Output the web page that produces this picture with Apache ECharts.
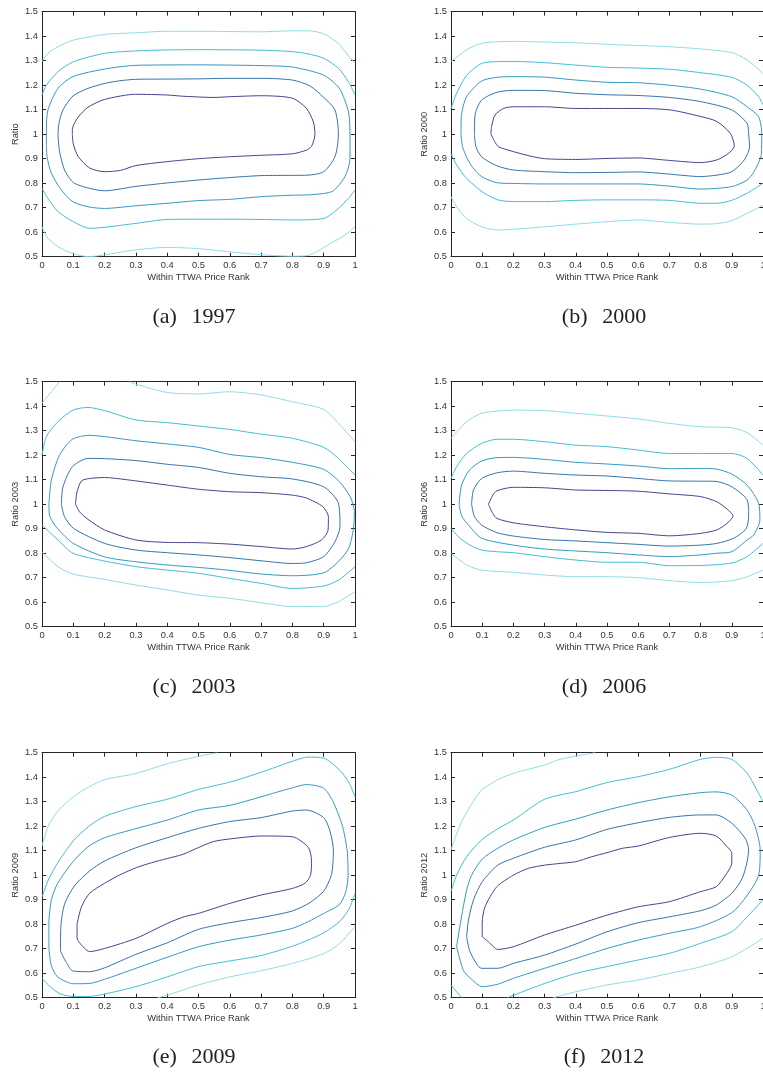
<!DOCTYPE html>
<html>
<head>
<meta charset="utf-8">
<script src="https://cdn.jsdelivr.net/npm/echarts@6/dist/echarts.min.js"></script>
<style>
html,body{margin:0;padding:0;background:#fff;overflow:hidden;}
#chart{width:763px;height:1074px;}
</style>
</head>
<body>
<div id="chart"></div>
<script>
// ---- tick labels / axis ranges ----
const xTicks = [0, 0.1, 0.2, 0.3, 0.4, 0.5, 0.6, 0.7, 0.8, 0.9, 1];
const yTicks = [0.5, 0.6, 0.7, 0.8, 0.9, 1, 1.1, 1.2, 1.3, 1.4, 1.5];
const captions = ['(a)', '(b)', '(c)', '(d)', '(e)', '(f)'];
const years = ['1997', '2000', '2003', '2006', '2009', '2012'];
const yNames = ['Ratio', 'Ratio 2000', 'Ratio 2003', 'Ratio 2006', 'Ratio 2009', 'Ratio 2012'];
const xName = 'Within TTWA Price Rank';

// ---- contour lines: [rank, ratio] ----
// (a) 1997
const a_L1 = [[0.097,1.0],[0.1,0.96],[0.115,0.91],[0.152,0.862],[0.2,0.847],[0.25,0.852],[0.3,0.872],[0.4,0.888],[0.5,0.9],[0.6,0.908],[0.7,0.914],[0.8,0.92],[0.845,0.935],[0.861,0.95],[0.872,1.0],[0.867,1.05],[0.845,1.105],[0.8,1.147],[0.7,1.157],[0.6,1.153],[0.55,1.15],[0.45,1.155],[0.4,1.16],[0.3,1.163],[0.2,1.142],[0.147,1.11],[0.115,1.069],[0.097,1.02],[0.097,1.0]];
const a_L2 = [[0.051,1.0],[0.056,0.93],[0.072,0.854],[0.101,0.802],[0.152,0.779],[0.2,0.769],[0.3,0.787],[0.4,0.801],[0.5,0.813],[0.6,0.823],[0.7,0.831],[0.8,0.832],[0.85,0.833],[0.9,0.847],[0.936,0.908],[0.947,1.0],[0.936,1.099],[0.9,1.15],[0.856,1.197],[0.8,1.221],[0.7,1.228],[0.6,1.228],[0.5,1.226],[0.4,1.225],[0.3,1.224],[0.248,1.218],[0.2,1.207],[0.147,1.187],[0.099,1.156],[0.067,1.099],[0.054,1.044],[0.051,1.0]];
const a_L3 = [[0.014,0.95],[0.014,1.02],[0.019,1.099],[0.051,1.187],[0.099,1.235],[0.2,1.266],[0.3,1.281],[0.5,1.283],[0.7,1.28],[0.8,1.274],[0.9,1.241],[0.95,1.187],[0.979,1.092],[0.984,1.0],[0.984,0.9],[0.968,0.827],[0.931,0.769],[0.899,0.758],[0.845,0.752],[0.8,0.751],[0.7,0.745],[0.6,0.734],[0.5,0.729],[0.4,0.718],[0.3,0.708],[0.2,0.697],[0.15,0.703],[0.099,0.724],[0.062,0.772],[0.03,0.84],[0.016,0.908],[0.014,0.95]];
const a_L4top = [[0,1.16],[0.014,1.2],[0.051,1.255],[0.101,1.296],[0.2,1.33],[0.3,1.34],[0.4,1.344],[0.5,1.345],[0.7,1.343],[0.8,1.337],[0.85,1.328],[0.9,1.31],[0.947,1.269],[0.979,1.214],[1.0,1.16]];
const a_L4bot = [[0,0.779],[0.019,0.738],[0.051,0.684],[0.1,0.643],[0.152,0.616],[0.2,0.62],[0.3,0.636],[0.4,0.652],[0.5,0.653],[0.6,0.653],[0.7,0.652],[0.8,0.65],[0.9,0.656],[0.947,0.697],[0.979,0.738],[1.0,0.772]];
const a_L5top = [[0,1.296],[0.019,1.33],[0.051,1.357],[0.1,1.384],[0.2,1.407],[0.3,1.414],[0.4,1.42],[0.5,1.42],[0.6,1.419],[0.7,1.418],[0.8,1.422],[0.85,1.422],[0.9,1.41],[0.947,1.37],[0.979,1.32],[1.0,1.29]];
const a_L5bot = [[0,0.622],[0.019,0.575],[0.051,0.541],[0.1,0.512],[0.15,0.5],[0.2,0.508],[0.3,0.528],[0.4,0.538],[0.5,0.533],[0.6,0.52],[0.7,0.508],[0.8,0.502],[0.85,0.505],[0.89,0.53],[0.93,0.56],[0.97,0.59],[1.0,0.622]];

// (b) 2000
const b_L1 = [[0.128,1.0],[0.13,1.03],[0.141,1.078],[0.168,1.105],[0.2,1.112],[0.3,1.112],[0.4,1.105],[0.5,1.105],[0.6,1.105],[0.703,1.099],[0.804,1.071],[0.852,1.052],[0.895,1.004],[0.908,0.952],[0.89,0.922],[0.852,0.895],[0.8,0.884],[0.7,0.893],[0.6,0.903],[0.5,0.901],[0.4,0.897],[0.3,0.9],[0.253,0.911],[0.2,0.929],[0.152,0.949],[0.14,0.97],[0.128,1.0]];
const b_L2 = [[0.075,1.0],[0.077,1.078],[0.098,1.139],[0.147,1.171],[0.2,1.179],[0.3,1.178],[0.4,1.167],[0.5,1.161],[0.6,1.158],[0.7,1.15],[0.8,1.133],[0.9,1.099],[0.949,1.044],[0.954,1.0],[0.957,0.949],[0.94,0.895],[0.9,0.847],[0.852,0.833],[0.8,0.827],[0.7,0.837],[0.6,0.846],[0.5,0.844],[0.4,0.843],[0.3,0.847],[0.2,0.854],[0.147,0.871],[0.098,0.908],[0.08,0.949],[0.075,1.0]];
const b_L3 = [[0.032,1.0],[0.033,1.071],[0.05,1.153],[0.098,1.217],[0.147,1.232],[0.2,1.235],[0.3,1.233],[0.4,1.221],[0.5,1.212],[0.6,1.21],[0.7,1.2],[0.8,1.184],[0.9,1.153],[0.949,1.112],[0.986,1.071],[0.996,1.0],[0.995,0.92],[0.97,0.844],[0.949,0.813],[0.9,0.786],[0.8,0.776],[0.7,0.788],[0.6,0.797],[0.5,0.797],[0.4,0.797],[0.3,0.797],[0.2,0.799],[0.147,0.802],[0.098,0.827],[0.07,0.863],[0.052,0.901],[0.037,0.949],[0.032,1.0]];
const b_L4top = [[0,1.105],[0.018,1.167],[0.05,1.24],[0.098,1.289],[0.147,1.296],[0.2,1.297],[0.3,1.292],[0.4,1.282],[0.5,1.273],[0.6,1.27],[0.7,1.265],[0.8,1.251],[0.9,1.232],[0.949,1.2],[0.986,1.153],[1.0,1.12]];
const b_L4bot = [[0,0.92],[0.02,0.87],[0.05,0.82],[0.1,0.765],[0.15,0.732],[0.2,0.725],[0.3,0.725],[0.4,0.73],[0.5,0.732],[0.6,0.732],[0.7,0.73],[0.8,0.718],[0.85,0.718],[0.9,0.73],[0.95,0.76],[1.0,0.8]];
const b_L5top = [[0,1.296],[0.05,1.344],[0.098,1.371],[0.2,1.379],[0.3,1.376],[0.4,1.373],[0.5,1.367],[0.6,1.362],[0.7,1.357],[0.8,1.348],[0.9,1.333],[0.949,1.303],[1.0,1.248]];
const b_L5bot = [[0,0.745],[0.02,0.7],[0.05,0.656],[0.098,0.622],[0.152,0.609],[0.2,0.612],[0.3,0.622],[0.4,0.633],[0.5,0.643],[0.6,0.65],[0.7,0.64],[0.8,0.633],[0.85,0.635],[0.9,0.647],[0.949,0.677],[1.0,0.71]];

// (c) 2003
const c_L1 = [[0.107,1.0],[0.112,1.051],[0.126,1.095],[0.152,1.105],[0.2,1.109],[0.27,1.1],[0.4,1.078],[0.5,1.061],[0.6,1.051],[0.7,1.047],[0.8,1.037],[0.845,1.025],[0.897,0.99],[0.915,0.949],[0.914,0.894],[0.893,0.854],[0.845,0.827],[0.8,0.817],[0.7,0.827],[0.6,0.837],[0.5,0.843],[0.4,0.844],[0.3,0.854],[0.2,0.895],[0.147,0.938],[0.12,0.969],[0.107,1.0]];
const c_L2 = [[0.062,1.0],[0.067,1.071],[0.097,1.153],[0.147,1.187],[0.2,1.186],[0.3,1.178],[0.4,1.163],[0.5,1.15],[0.6,1.126],[0.7,1.112],[0.8,1.103],[0.9,1.071],[0.947,1.004],[0.952,0.908],[0.936,0.847],[0.9,0.786],[0.845,0.761],[0.8,0.758],[0.7,0.769],[0.6,0.782],[0.5,0.793],[0.4,0.802],[0.3,0.813],[0.2,0.84],[0.101,0.901],[0.072,0.949],[0.062,1.0]];
const c_L3 = [[0.022,1.0],[0.03,1.099],[0.056,1.2],[0.097,1.265],[0.15,1.281],[0.2,1.276],[0.3,1.259],[0.4,1.246],[0.5,1.232],[0.6,1.203],[0.7,1.19],[0.8,1.171],[0.9,1.142],[0.95,1.092],[0.985,1.03],[0.998,0.97],[0.995,0.9],[0.98,0.82],[0.95,0.77],[0.9,0.72],[0.8,0.708],[0.7,0.715],[0.6,0.73],[0.5,0.742],[0.4,0.752],[0.3,0.765],[0.2,0.785],[0.1,0.84],[0.05,0.9],[0.025,0.95],[0.022,1.0]];
const c_L4top = [[0,1.2],[0.014,1.276],[0.051,1.337],[0.099,1.384],[0.147,1.395],[0.2,1.382],[0.3,1.344],[0.4,1.333],[0.5,1.319],[0.6,1.305],[0.7,1.286],[0.8,1.269],[0.9,1.232],[0.947,1.187],[1.0,1.119]];
const c_L4bot = [[0,0.915],[0.051,0.854],[0.099,0.8],[0.2,0.768],[0.3,0.745],[0.4,0.731],[0.5,0.718],[0.6,0.697],[0.7,0.677],[0.8,0.656],[0.9,0.666],[0.947,0.69],[1.0,0.745]];
const c_L5corner = [[0,1.412],[0.03,1.459],[0.056,1.5]];
const c_L5top = [[0.28,1.5],[0.3,1.49],[0.4,1.456],[0.5,1.45],[0.6,1.459],[0.7,1.446],[0.8,1.418],[0.9,1.387],[0.947,1.33],[1.0,1.255]];
const c_L5bot = [[0,0.806],[0.051,0.745],[0.099,0.715],[0.2,0.693],[0.3,0.67],[0.4,0.65],[0.5,0.629],[0.6,0.616],[0.7,0.598],[0.8,0.582],[0.9,0.582],[0.947,0.602],[1.0,0.643]];

// (d) 2006
const d_L1 = [[0.12,1.0],[0.134,1.037],[0.147,1.055],[0.2,1.069],[0.3,1.067],[0.4,1.058],[0.5,1.056],[0.6,1.053],[0.7,1.042],[0.8,1.031],[0.852,1.01],[0.885,0.98],[0.904,0.952],[0.885,0.922],[0.852,0.895],[0.8,0.881],[0.7,0.871],[0.6,0.881],[0.5,0.885],[0.4,0.895],[0.3,0.908],[0.2,0.924],[0.147,0.942],[0.134,0.962],[0.12,1.0]];
const d_L2 = [[0.066,1.0],[0.072,1.058],[0.098,1.105],[0.147,1.128],[0.2,1.135],[0.3,1.126],[0.4,1.119],[0.5,1.115],[0.6,1.105],[0.7,1.095],[0.8,1.094],[0.85,1.093],[0.9,1.071],[0.949,1.018],[0.954,0.956],[0.946,0.9],[0.906,0.861],[0.852,0.84],[0.8,0.833],[0.7,0.829],[0.6,0.836],[0.5,0.843],[0.4,0.85],[0.3,0.856],[0.2,0.87],[0.147,0.884],[0.098,0.915],[0.075,0.95],[0.066,1.0]];
const d_L3 = [[0.026,1.0],[0.034,1.078],[0.059,1.139],[0.098,1.176],[0.147,1.19],[0.2,1.191],[0.3,1.183],[0.4,1.171],[0.5,1.164],[0.6,1.156],[0.7,1.145],[0.8,1.146],[0.852,1.143],[0.9,1.123],[0.949,1.078],[0.986,1.004],[0.99,0.935],[0.97,0.874],[0.949,0.854],[0.9,0.806],[0.852,0.8],[0.8,0.793],[0.7,0.786],[0.6,0.793],[0.5,0.802],[0.4,0.809],[0.3,0.817],[0.2,0.833],[0.098,0.861],[0.061,0.908],[0.035,0.95],[0.026,1.0]];
const d_L4top = [[0,1.105],[0.018,1.153],[0.05,1.207],[0.098,1.248],[0.147,1.265],[0.2,1.265],[0.3,1.255],[0.4,1.241],[0.5,1.235],[0.6,1.221],[0.7,1.207],[0.8,1.207],[0.9,1.207],[0.949,1.187],[1.0,1.119]];
const d_L4bot = [[0,0.901],[0.029,0.861],[0.061,0.833],[0.098,0.813],[0.147,0.806],[0.2,0.802],[0.3,0.786],[0.4,0.772],[0.5,0.763],[0.6,0.763],[0.7,0.749],[0.8,0.75],[0.9,0.76],[0.949,0.786],[1.0,0.84]];
const d_L5top = [[0,1.269],[0.029,1.31],[0.05,1.337],[0.098,1.371],[0.2,1.384],[0.3,1.382],[0.4,1.371],[0.5,1.36],[0.6,1.348],[0.7,1.33],[0.8,1.316],[0.9,1.312],[0.949,1.292],[1.0,1.241]];
const d_L5bot = [[0,0.8],[0.05,0.752],[0.098,0.731],[0.2,0.722],[0.3,0.711],[0.4,0.704],[0.5,0.704],[0.6,0.7],[0.7,0.688],[0.8,0.68],[0.9,0.688],[0.949,0.704],[1.0,0.731]];

// (e) 2009
const e_L1 = [[0.112,0.8],[0.126,0.871],[0.152,0.926],[0.2,0.967],[0.248,1.001],[0.302,1.031],[0.35,1.051],[0.4,1.068],[0.45,1.085],[0.5,1.113],[0.547,1.137],[0.6,1.148],[0.7,1.16],[0.8,1.157],[0.851,1.113],[0.861,1.061],[0.858,1.0],[0.84,0.967],[0.8,0.946],[0.7,0.919],[0.6,0.885],[0.5,0.844],[0.456,0.831],[0.4,0.803],[0.3,0.742],[0.2,0.701],[0.152,0.688],[0.12,0.724],[0.112,0.745],[0.112,0.8]];
const e_L2 = [[0.059,0.69],[0.078,0.643],[0.099,0.609],[0.152,0.606],[0.2,0.622],[0.3,0.677],[0.4,0.724],[0.5,0.779],[0.6,0.806],[0.7,0.827],[0.8,0.854],[0.856,0.888],[0.9,0.935],[0.925,1.003],[0.931,1.099],[0.92,1.18],[0.9,1.235],[0.845,1.266],[0.8,1.262],[0.7,1.235],[0.6,1.219],[0.5,1.191],[0.4,1.153],[0.3,1.112],[0.2,1.058],[0.152,1.017],[0.104,0.957],[0.072,0.882],[0.06,0.786],[0.059,0.69]];
const e_L3 = [[0.022,0.7],[0.022,0.8],[0.03,0.9],[0.05,0.967],[0.099,1.055],[0.147,1.116],[0.2,1.153],[0.3,1.19],[0.4,1.225],[0.5,1.266],[0.6,1.285],[0.7,1.32],[0.8,1.357],[0.845,1.37],[0.9,1.355],[0.93,1.3],[0.96,1.2],[0.975,1.1],[0.978,1.0],[0.97,0.93],[0.95,0.88],[0.9,0.844],[0.85,0.81],[0.8,0.783],[0.7,0.756],[0.6,0.735],[0.5,0.708],[0.4,0.665],[0.3,0.62],[0.2,0.575],[0.15,0.558],[0.1,0.557],[0.05,0.585],[0.03,0.63],[0.022,0.7]];
const e_L4top = [[0,0.91],[0.02,0.98],[0.05,1.05],[0.1,1.14],[0.15,1.2],[0.2,1.24],[0.3,1.28],[0.4,1.31],[0.5,1.35],[0.6,1.38],[0.7,1.42],[0.8,1.465],[0.85,1.482],[0.9,1.478],[0.95,1.43],[0.98,1.38],[1.0,1.32]];
const e_L4bot = [[0,0.58],[0.03,0.54],[0.06,0.515],[0.1,0.505],[0.15,0.505],[0.2,0.515],[0.3,0.545],[0.4,0.585],[0.5,0.627],[0.6,0.65],[0.7,0.672],[0.8,0.71],[0.85,0.735],[0.9,0.765],[0.95,0.81],[0.98,0.86],[1.0,0.925]];
const e_L5top = [[0,1.12],[0.02,1.2],[0.05,1.26],[0.1,1.32],[0.15,1.36],[0.2,1.39],[0.3,1.415],[0.4,1.455],[0.5,1.485],[0.56,1.5]];
const e_L5bot = [[0.37,0.5],[0.4,0.51],[0.5,0.552],[0.6,0.585],[0.7,0.61],[0.8,0.64],[0.9,0.68],[0.95,0.72],[1.0,0.79]];

// (f) 2012
const f_L1 = [[0.1,0.749],[0.1,0.803],[0.109,0.871],[0.147,0.953],[0.2,1.0],[0.248,1.028],[0.3,1.041],[0.35,1.048],[0.4,1.055],[0.45,1.075],[0.5,1.092],[0.55,1.11],[0.6,1.119],[0.7,1.154],[0.8,1.171],[0.85,1.16],[0.88,1.123],[0.9,1.089],[0.9,1.051],[0.88,1.0],[0.85,0.953],[0.8,0.933],[0.7,0.892],[0.6,0.871],[0.5,0.837],[0.4,0.796],[0.3,0.756],[0.2,0.708],[0.15,0.697],[0.12,0.728],[0.1,0.749]];
const f_L2 = [[0.05,0.749],[0.061,0.688],[0.098,0.62],[0.15,0.62],[0.2,0.64],[0.3,0.674],[0.4,0.719],[0.5,0.769],[0.6,0.806],[0.7,0.83],[0.8,0.855],[0.85,0.878],[0.9,0.926],[0.933,0.986],[0.949,1.055],[0.954,1.103],[0.943,1.15],[0.9,1.212],[0.85,1.246],[0.8,1.246],[0.7,1.236],[0.6,1.214],[0.5,1.187],[0.4,1.144],[0.3,1.114],[0.2,1.069],[0.15,1.041],[0.1,0.973],[0.072,0.899],[0.056,0.817],[0.05,0.749]];
const f_L3 = [[0.018,0.708],[0.04,0.611],[0.066,0.575],[0.1,0.545],[0.15,0.555],[0.2,0.579],[0.3,0.62],[0.4,0.66],[0.5,0.701],[0.6,0.735],[0.7,0.763],[0.8,0.79],[0.9,0.847],[0.95,0.919],[0.986,1.0],[0.991,1.103],[0.975,1.198],[0.949,1.266],[0.9,1.327],[0.85,1.34],[0.8,1.337],[0.7,1.32],[0.6,1.296],[0.5,1.266],[0.4,1.229],[0.3,1.195],[0.2,1.144],[0.15,1.11],[0.1,1.066],[0.066,1.0],[0.05,0.939],[0.03,0.803],[0.018,0.708]];
const f_L4top = [[0,0.933],[0.018,1.0],[0.05,1.075],[0.098,1.144],[0.152,1.191],[0.2,1.225],[0.3,1.31],[0.4,1.341],[0.5,1.378],[0.6,1.402],[0.7,1.432],[0.8,1.473],[0.85,1.481],[0.9,1.473],[0.949,1.416],[0.986,1.334],[1.0,1.3]];
const f_L4bot = [[0.179,0.5],[0.2,0.51],[0.3,0.558],[0.4,0.599],[0.5,0.627],[0.6,0.654],[0.7,0.681],[0.8,0.722],[0.9,0.769],[0.949,0.83],[1.0,0.899]];
const f_L4corner = [[0,0.552],[0.034,0.5]];
const f_L5top = [[0,1.103],[0.029,1.205],[0.061,1.28],[0.098,1.347],[0.152,1.391],[0.2,1.416],[0.3,1.45],[0.35,1.473],[0.462,1.5]];
const f_L5bot = [[0.328,0.5],[0.4,0.524],[0.5,0.552],[0.6,0.572],[0.7,0.599],[0.8,0.626],[0.9,0.667],[1.0,0.742]];

// ---- wiring: per panel, per contour level, its pieces ----
const panelLevels = [
  [[a_L1], [a_L2], [a_L3], [a_L4top, a_L4bot], [a_L5top, a_L5bot]],
  [[b_L1], [b_L2], [b_L3], [b_L4top, b_L4bot], [b_L5top, b_L5bot]],
  [[c_L1], [c_L2], [c_L3], [c_L4top, c_L4bot], [c_L5corner, c_L5top, c_L5bot]],
  [[d_L1], [d_L2], [d_L3], [d_L4top, d_L4bot], [d_L5top, d_L5bot]],
  [[e_L1], [e_L2], [e_L3], [e_L4top, e_L4bot], [e_L5top, e_L5bot]],
  [[f_L1], [f_L2], [f_L3], [f_L4top, f_L4bot, f_L4corner], [f_L5top, f_L5bot]]
];
const levelColors = ['#45458c', '#3474aa', '#3399c2', '#42bdd3', '#8cdce6'];

// ---- layout ----
const colLeft = [42, 451];
const colWidth = [313, 312];
const rowTop = [11.7, 381.7, 752.7];
const plotH = 245;
const capX = [194, 604];
const capY = [317, 687, 1057];

const chart = echarts.init(document.getElementById('chart'), null, {renderer: 'canvas'});
const AX = '#262626';
const TXT = '#333';
const SANS = 'Liberation Sans, Arial, sans-serif';

const grids = [], xAxes = [], yAxes = [], series = [], graphics = [];
for (let p = 0; p < 6; p++) {
  const col = p % 2, row = Math.floor(p / 2);
  grids.push({left: colLeft[col], top: rowTop[row], width: colWidth[col], height: plotH,
    containLabel: false, outerBoundsMode: 'none'});
  const common = {
    type: 'value', gridIndex: p,
    axisLine: {show: true, onZero: false, lineStyle: {color: AX, width: 1}},
    axisTick: {show: true, inside: true, length: 4, lineStyle: {color: AX, width: 1}},
    splitLine: {show: false}
  };
  xAxes.push(Object.assign({}, common, {
    position: 'bottom', min: xTicks[0], max: xTicks[xTicks.length - 1], interval: 0.1,
    axisLabel: {show: true, margin: 4, fontSize: 9.3, color: TXT, fontFamily: SANS, hideOverlap: false},
    name: xName, nameLocation: 'middle', nameGap: 16,
    nameTextStyle: {fontSize: 9.3, color: TXT, fontFamily: SANS}
  }));
  xAxes.push(Object.assign({}, common, {
    position: 'top', min: xTicks[0], max: xTicks[xTicks.length - 1], interval: 0.1,
    axisLabel: {show: false}
  }));
  yAxes.push(Object.assign({}, common, {
    position: 'left', min: yTicks[0], max: yTicks[yTicks.length - 1], interval: 0.1,
    axisLabel: {show: true, margin: 4, fontSize: 9.3, color: TXT, fontFamily: SANS},
    name: yNames[p], nameLocation: 'middle', nameGap: 22,
    nameTextStyle: {fontSize: 9.3, color: TXT, fontFamily: SANS}
  }));
  yAxes.push(Object.assign({}, common, {
    position: 'right', min: yTicks[0], max: yTicks[yTicks.length - 1], interval: 0.1,
    axisLabel: {show: false}
  }));
  panelLevels[p].forEach((pieces, li) => {
    pieces.forEach(piece => {
      series.push({
        type: 'line', xAxisIndex: 2 * p, yAxisIndex: 2 * p,
        data: piece, showSymbol: false, symbol: 'none', smooth: 0.25,
        clip: true, silent: true, animation: false,
        lineStyle: {width: 1, color: levelColors[li]}
      });
    });
  });
  graphics.push({
    type: 'text', x: capX[col], y: capY[row],
    style: {
      text: captions[p] + '\u2002\u2006' + years[p],
      fontSize: 22, fontFamily: 'Liberation Serif, Times New Roman, serif',
      fill: '#222', align: 'center', verticalAlign: 'middle'
    }
  });
}

chart.setOption({
  backgroundColor: '#fff',
  animation: false,
  grid: grids,
  xAxis: xAxes,
  yAxis: yAxes,
  series: series,
  graphic: graphics
});
</script>
</body>
</html>
